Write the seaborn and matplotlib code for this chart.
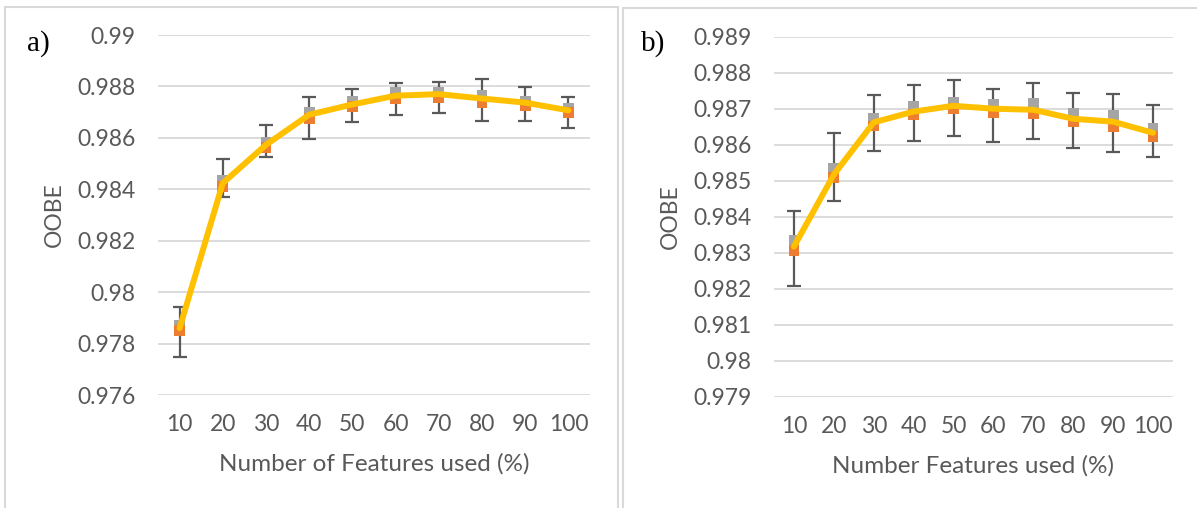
import numpy as np
import pandas as pd
import matplotlib.pyplot as plt
import seaborn as sns
from matplotlib.patches import Rectangle

# features used (%) on the x axis
features = [10, 20, 30, 40, 50, 60, 70, 80, 90, 100]

# panel a) OOBE
a_line = [0.97860, 0.98424, 0.98573, 0.98690, 0.98730, 0.98764, 0.98770, 0.98753, 0.98737, 0.98707]
a_grey = [0.97870, 0.98435, 0.98582, 0.98699, 0.98741, 0.98776, 0.98778, 0.98765, 0.98741, 0.98713]
a_orange = [0.97850, 0.98412, 0.98563, 0.98676, 0.98722, 0.98753, 0.98757, 0.98737, 0.98726, 0.98698]
a_err_hi = [0.97944, 0.98517, 0.98649, 0.98757, 0.98791, 0.98815, 0.98819, 0.98830, 0.98799, 0.98760]
a_err_lo = [0.97748, 0.98369, 0.98524, 0.98596, 0.98663, 0.98690, 0.98698, 0.98666, 0.98666, 0.98639]

# panel b) OOBE
b_line = [0.98317, 0.98517, 0.98662, 0.98692, 0.98708, 0.98700, 0.98697, 0.98672, 0.98664, 0.98633]
b_grey = [0.98333, 0.98533, 0.98672, 0.98706, 0.98717, 0.98711, 0.98714, 0.98686, 0.98681, 0.98644]
b_orange = [0.98306, 0.98508, 0.98652, 0.98683, 0.98700, 0.98689, 0.98686, 0.98664, 0.98650, 0.98622]
b_err_hi = [0.98417, 0.98633, 0.98738, 0.98767, 0.98781, 0.98756, 0.98772, 0.98744, 0.98742, 0.98711]
b_err_lo = [0.98208, 0.98444, 0.98583, 0.98611, 0.98625, 0.98608, 0.98617, 0.98592, 0.98581, 0.98567]

sns.set_style('white')
plt.rcParams['font.family'] = ['Lato', 'DejaVu Sans']

txt = '#595959'
fig = plt.figure(figsize=(11.97, 5.08), dpi=100)

# light frames around each panel
fig.patches.append(Rectangle((5 / 1197, -0.05), 613 / 1197, 1 - 7 / 508 + 0.05,
                             transform=fig.transFigure, fill=False, ec='#d9d9d9', lw=1.5))
fig.patches.append(Rectangle((623 / 1197, -0.05), 0.6, 1 - 8 / 508 + 0.05,
                             transform=fig.transFigure, fill=False, ec='#d9d9d9', lw=1.5))

ax1 = fig.add_axes([158 / 1197, 1 - 395 / 508, 432 / 1197, 360 / 508])
ax2 = fig.add_axes([774 / 1197, 1 - 396.7 / 508, 399 / 1197, 360 / 508])

panels = [
    (ax1, a_line, a_grey, a_orange, a_err_lo, a_err_hi, (0.976, 0.99), np.arange(0.976, 0.9901, 0.002),
     'Number of Features used (%)', 'a)', 27 / 1197),
    (ax2, b_line, b_grey, b_orange, b_err_lo, b_err_hi, (0.979, 0.989), np.arange(0.979, 0.9891, 0.001),
     'Number Features used (%)', 'b)', 641 / 1197),
]

for ax, line, grey, orange, lo, hi, ylim, ticks, xlabel, tag, tag_x in panels:
    df = pd.DataFrame({'features': features, 'line': line, 'grey': grey, 'orange': orange,
                       'lo': lo, 'hi': hi})
    ax.errorbar(df['features'], df['line'],
                yerr=[df['line'] - df['lo'], df['hi'] - df['line']],
                fmt='none', ecolor='#595959', elinewidth=1.6, capsize=5, capthick=1.6, zorder=2)
    sns.scatterplot(data=df, x='features', y='grey', marker='s', s=60, color='#a5a5a5',
                    edgecolor='none', ax=ax, zorder=3)
    sns.scatterplot(data=df, x='features', y='orange', marker='s', s=60, color='#ed7d31',
                    edgecolor='none', ax=ax, zorder=4)
    sns.lineplot(data=df, x='features', y='line', color='#ffc000', lw=4.3, ax=ax, zorder=5,
                 solid_capstyle='round', solid_joinstyle='round')

    ax.set_xlim(5, 105)
    ax.set_ylim(*ylim)
    ax.set_xticks(features)
    ax.set_xticklabels([str(f) for f in features])
    ax.set_yticks(ticks)
    ax.set_yticklabels([f'{t:.3f}'.rstrip('0') for t in ticks])
    ax.grid(axis='y', color='#d9d9d9', lw=1.3)
    ax.set_axisbelow(True)
    for s in ax.spines.values():
        s.set_visible(False)
    ax.tick_params(length=0, labelsize=16.5, labelcolor=txt)
    ax.tick_params(axis='y', pad=16)
    ax.tick_params(axis='x', pad=14)
    ax.set_xlabel(xlabel, fontsize=17.5, color=txt, labelpad=13)
    ax.set_ylabel('OOBE', fontsize=16.5, color=txt, labelpad=9)
    fig.text(tag_x, 1 - 44 / 508, tag, family='Liberation Serif', fontsize=21,
             color='black', va='center')

plt.savefig('out.png', dpi=100)
